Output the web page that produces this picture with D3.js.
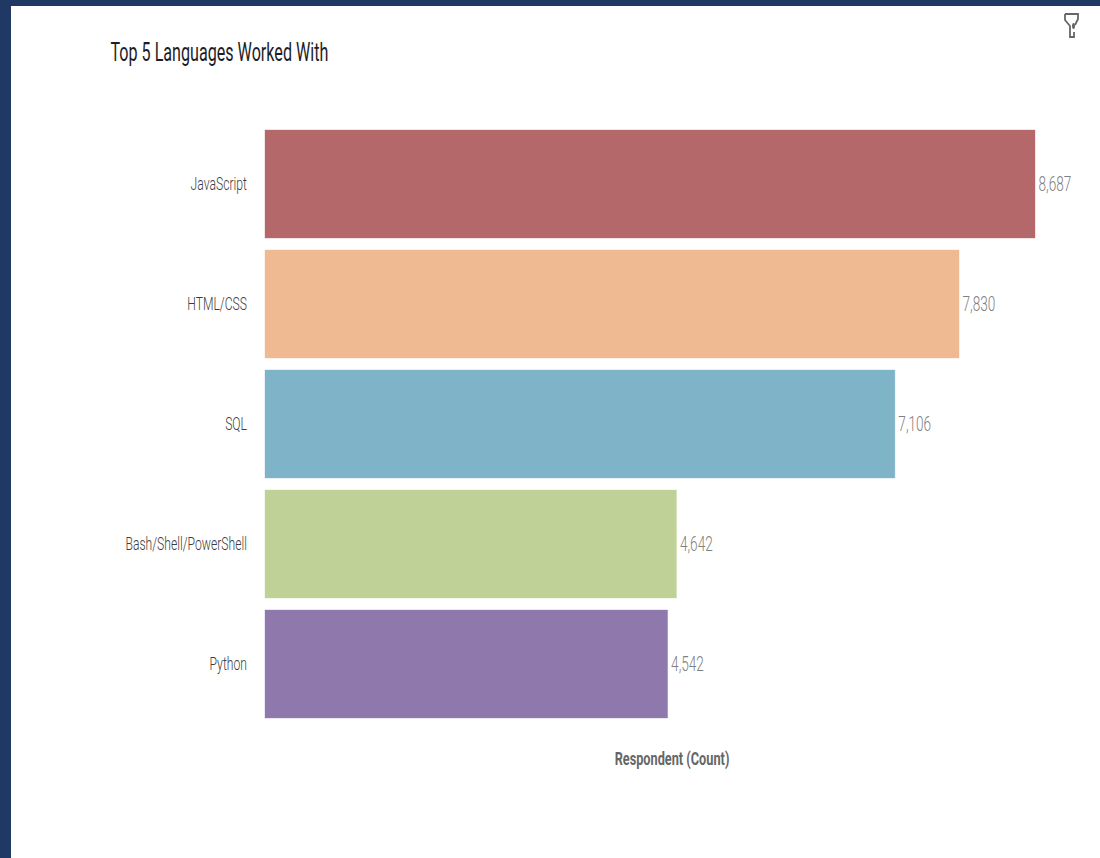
<!DOCTYPE html>
<html>

<head>
    <title>Top 5 Languages Worked With</title>
    <script src="https://cdnjs.cloudflare.com/ajax/libs/d3/7.8.5/d3.min.js"></script>
    <style>
        html, body { margin: 0; padding: 0; background: #fff; }
        svg { display: block; }
        text { font-family: "Roboto", sans-serif; }
    </style>
</head>

<body>
    <svg id="chart" width="1100" height="858"></svg>
    <script>
        const languages = ["JavaScript", "HTML/CSS", "SQL", "Bash/Shell/PowerShell", "Python"];
        const respondents = [8687, 7830, 7106, 4642, 4542];
        const barColors = ["#b5686a", "#efb991", "#7eb3c8", "#c0d197", "#8f78ab"];

        const svg = d3.select("#chart");

        // no condensed font installed, so squeeze the glyphs to the measured width
        function condense(sel, factor) {
            sel.each(function() {
                const w = this.getComputedTextLength();
                d3.select(this)
                    .attr("textLength", w * factor)
                    .attr("lengthAdjust", "spacingAndGlyphs");
            });
        }

        // dark frame of the dashboard, top and left only
        svg.append("rect").attr("width", 1100).attr("height", 6).attr("fill", "#1f3864");
        svg.append("rect").attr("width", 11).attr("height", 858).attr("fill", "#1f3864");

        svg.append("text")
            .attr("x", 110.5)
            .attr("y", 61)
            .attr("font-size", 26)
            .attr("fill", "#1d1d28")
            .text("Top 5 Languages Worked With")
            .call(condense, 0.62);

        const x = d3.scaleLinear().domain([0, 8687]).range([265, 1035]);
        const y = d3.scaleBand().domain(languages).range([124, 724]).paddingInner(0.1).paddingOuter(0.05);

        svg.selectAll("rect.bar").data(languages)
            .enter()
            .append("rect")
            .attr("class", "bar")
            .attr("x", x(0))
            .attr("y", d => y(d))
            .attr("width", (d, i) => x(respondents[i]) - x(0))
            .attr("height", y.bandwidth())
            .attr("fill", (d, i) => barColors[i])
            .attr("stroke", (d, i) => barColors[i])
            .attr("stroke-opacity", 0.35);

        const yAxis = d3.axisLeft(y).tickSize(0).tickPadding(18);
        const axisG = svg.append("g").attr("transform", "translate(265,0)").call(yAxis);
        axisG.select(".domain").remove();
        axisG.selectAll("text")
            .style("font-size", "19px")
            .style("font-weight", 300)
            .style("font-family", '"Roboto", sans-serif')
            .attr("fill", "#3c3c3c")
            .call(condense, 0.64);

        svg.selectAll("text.value").data(languages)
            .enter()
            .append("text")
            .attr("class", "value")
            .attr("x", (d, i) => x(respondents[i]) + 3.5)
            .attr("y", d => y(d) + y.bandwidth() / 2)
            .attr("dy", "0.35em")
            .attr("font-size", 20)
            .attr("font-weight", 300)
            .attr("fill", "#808080")
            .text((d, i) => d3.format(",")(respondents[i]))
            .call(condense, 0.68);

        svg.append("text")
            .attr("x", 672)
            .attr("y", 765)
            .attr("text-anchor", "middle")
            .attr("font-size", 19)
            .attr("font-weight", "bold")
            .attr("fill", "#666666")
            .text("Respondent (Count)")
            .call(condense, 0.67);

        // filter icon, top right
        svg.append("path")
            .attr("d", "M1065 14 H1078 V19 L1075 25 M1065 14 V20 L1070 26 V37 H1074 V32")
            .attr("fill", "none")
            .attr("stroke", "#666666")
            .attr("stroke-width", 1.8);
        svg.append("ellipse").attr("cx", 1073.5).attr("cy", 26).attr("rx", 1.5).attr("ry", 3).attr("fill", "#666666");
    </script>
</body>

</html>
